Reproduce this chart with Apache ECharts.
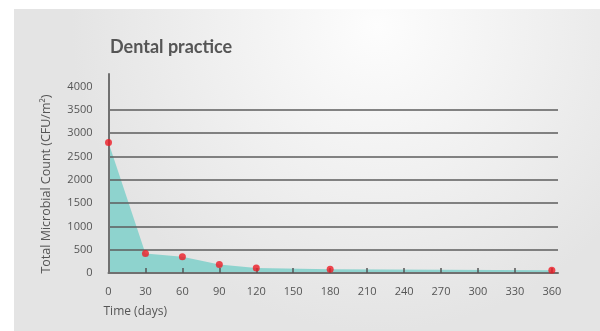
<!DOCTYPE html>
<html><head><meta charset="utf-8">
<script src="https://cdn.jsdelivr.net/npm/echarts@6/dist/echarts.min.js"></script>
<style>html,body{margin:0;padding:0;background:#fff}#c{width:600px;height:331px}</style>
</head><body><div id="c"></div>
<script>
const days = [0, 30, 60, 90, 120, 180, 360];
const counts = [2800, 420, 350, 180, 105, 80, 60];
const xTicks = [0, 30, 60, 90, 120, 150, 180, 210, 240, 270, 300, 330, 360];
const yTicks = [0, 500, 1000, 1500, 2000, 2500, 3000, 3500, 4000];
const titleText = 'Dental practice';
const xName = 'Time (days)';
const yName = 'Total Microbial Count (CFU/m\u00B2)';

const pts = days.map((d, i) => [d, counts[i]]);
const font = '"Open Sans", sans-serif';
const chart = echarts.init(document.getElementById('c'), null, {renderer: 'canvas'});
chart.setOption({
  animation: false,
  backgroundColor: '#ffffff',
  graphic: [{
    type: 'rect', z: -10, silent: true,
    shape: {x: 14, y: 9, width: 586, height: 322},
    style: {fill: {type: 'radial', x: 0.62, y: 0.05, r: 0.95,
      colorStops: [{offset: 0, color: '#fdfdfd'}, {offset: 1, color: '#e4e4e4'}]}}
  }],
  title: {
    text: titleText, left: 105, top: 33,
    textStyle: {fontFamily: 'Lato, sans-serif', fontSize: 18, fontWeight: 'bold', color: '#555555'}
  },
  grid: {left: 108.5, right: 42, top: 74, bottom: 58, containLabel: false},
  xAxis: {
    type: 'value', min: 0, max: 365, interval: 30, z: 3,
    name: xName, nameLocation: 'start', nameGap: 5,
    nameTextStyle: {fontFamily: font, fontSize: 12, color: '#555555', align: 'left', verticalAlign: 'top', padding: [33, 0, 0, 0]},
    axisLine: {show: true, lineStyle: {color: '#707070', width: 2}},
    axisTick: {show: true, inside: true, length: 5, lineStyle: {color: '#555555', width: 1.5}, customValues: xTicks.slice(1)},
    axisLabel: {fontFamily: font, fontSize: 11, color: '#555555', margin: 13, customValues: xTicks, formatter: v => String(v)},
    splitLine: {show: false}
  },
  yAxis: {
    type: 'value', min: 0, max: 4270, interval: 500, z: 3,
    name: yName, nameLocation: 'middle', nameGap: 56, nameRotate: 90,
    nameTextStyle: {fontFamily: font, fontSize: 12.5, color: '#555555', padding: [0, 21, 0, 0]},
    axisLine: {show: true, lineStyle: {color: '#707070', width: 2}},
    axisTick: {show: false, customValues: yTicks},
    axisLabel: {fontFamily: font, fontSize: 11, color: '#555555', margin: 16, customValues: yTicks, formatter: v => String(v)},
    splitLine: {show: true, showMinLine: false, showMaxLine: false, lineStyle: {color: '#5c5c5c', width: 1.5}}
  },
  series: [{
    type: 'line', data: pts, z: 1, showSymbol: false, symbol: 'none',
    lineStyle: {width: 0, opacity: 0},
    areaStyle: {color: '#8ed3ce', opacity: 1}
  }, {
    type: 'scatter', data: pts, z: 5, symbol: 'circle', symbolSize: 7,
    itemStyle: {color: '#ee1c25'}
  }]
});
</script></body></html>
